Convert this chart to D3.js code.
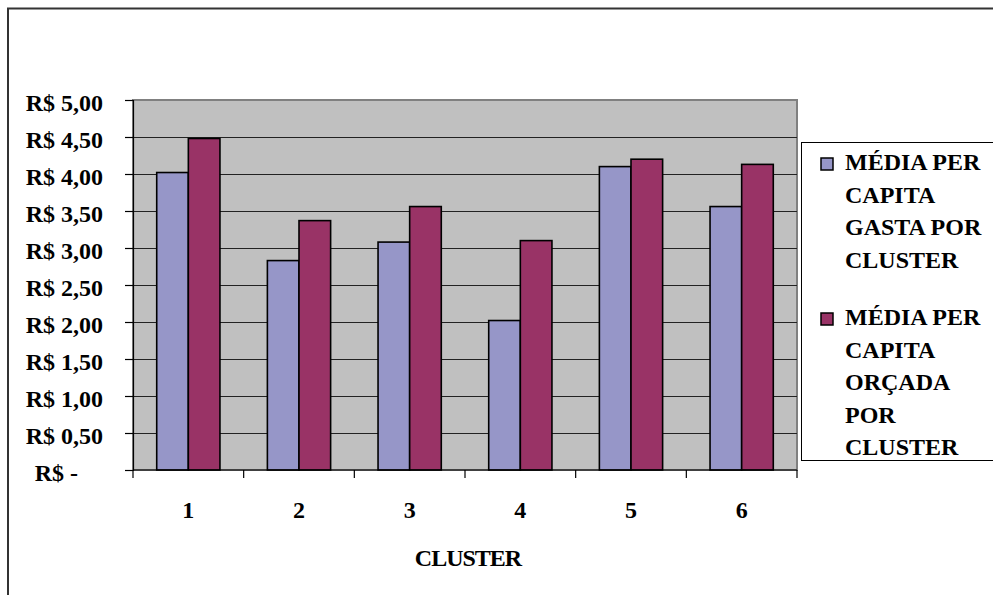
<!DOCTYPE html>
<html>
<head>
<meta charset="utf-8">
<script src="https://cdn.jsdelivr.net/npm/d3@7"></script>
<style>
  html, body { margin: 0; padding: 0; background: #fff; }
  svg { display: block; }
  text { font-family: "Liberation Serif", "Times New Roman", serif; font-weight: bold; fill: #000; }
</style>
</head>
<body>
<svg id="chart" width="993" height="595"></svg>
<script>
// Clusters on the x axis
const clusters = ["1", "2", "3", "4", "5", "6"];
// Average per capita spent, by cluster (R$)
const gasta = [4.02, 2.83, 3.08, 2.02, 4.10, 3.56];
// Average per capita budgeted, by cluster (R$)
const orcada = [4.48, 3.37, 3.56, 3.10, 4.20, 4.13];
// Series names and fills
const seriesNames = ["MÉDIA PER CAPITA GASTA POR CLUSTER", "MÉDIA PER CAPITA ORÇADA POR CLUSTER"];
const seriesColors = ["#9696C8", "#993366"];
// Legend lines, as wrapped in the legend box
const legendLines = [
  ["MÉDIA PER", "CAPITA", "GASTA POR", "CLUSTER"],
  ["MÉDIA PER", "CAPITA", "ORÇADA", "POR", "CLUSTER"]
];
// Y axis tick values
const yTicks = [0, 0.5, 1, 1.5, 2, 2.5, 3, 3.5, 4, 4.5, 5];

const svg = d3.select("#chart");
const plot = { left: 133, right: 797, top: 100, bottom: 470 };
const fontSize = 24;

// Outer chart border
svg.append("rect")
  .attr("x", 8).attr("y", 8.5)
  .attr("width", 1000).attr("height", 600)
  .attr("fill", "#fff").attr("stroke", "#333").attr("stroke-width", 2);

const x = d3.scaleBand().domain(clusters).range([plot.left, plot.right]).padding(0);
const xs = d3.scaleBand().domain([0, 1]).range([0, x.bandwidth()])
  .paddingInner(0).paddingOuter(0.75);
const y = d3.scaleLinear().domain([0, 5]).range([plot.bottom, plot.top]);

// Plot area
svg.append("rect")
  .attr("x", plot.left).attr("y", plot.top)
  .attr("width", plot.right - plot.left).attr("height", plot.bottom - plot.top)
  .attr("fill", "#C0C0C0").attr("stroke", "#808080").attr("stroke-width", 2);

// Horizontal gridlines
svg.append("g")
  .selectAll("line")
  .data(yTicks.filter(d => d > 0 && d < 5))
  .join("line")
  .attr("x1", plot.left).attr("x2", plot.right)
  .attr("y1", d => Math.round(y(d)) + 0.5).attr("y2", d => Math.round(y(d)) + 0.5)
  .attr("stroke", "#222").attr("stroke-width", 1.2);

// Bars
const groups = svg.append("g")
  .selectAll("g")
  .data(clusters)
  .join("g")
  .attr("transform", d => `translate(${x(d)},0)`);

groups.selectAll("rect")
  .data((d, i) => [gasta[i], orcada[i]].map((v, s) => ({ v, s })))
  .join("rect")
  .attr("x", d => xs(d.s))
  .attr("width", xs.bandwidth())
  .attr("y", d => y(d.v))
  .attr("height", d => y(0) - y(d.v))
  .attr("fill", d => seriesColors[d.s])
  .attr("stroke", "#000").attr("stroke-width", 1.6);

// Y axis
const yAxis = svg.append("g")
  .attr("transform", `translate(${plot.left},0)`)
  .call(d3.axisLeft(y).tickValues(yTicks).tickSize(8).tickPadding(22)
    .tickFormat(d => d === 0 ? "R$ -" : "R$ " + d3.format(".2f")(d).replace(".", ",")));
yAxis.select(".domain").attr("stroke", "#000").attr("stroke-width", 1.2);
yAxis.selectAll(".tick line").attr("stroke", "#000").attr("stroke-width", 1.2);
yAxis.selectAll(".tick text")
  .style("font-size", fontSize + "px")
  .attr("dy", "0.42em");
yAxis.selectAll(".tick text").filter(d => d === 0).attr("x", -55);

// X axis: ticks at category boundaries
const xAxis = svg.append("g")
  .attr("transform", `translate(0,${plot.bottom})`);
xAxis.append("line")
  .attr("x1", plot.left).attr("x2", plot.right)
  .attr("stroke", "#000").attr("stroke-width", 1.2);
const bounds = clusters.map(c => x(c)).concat([x(clusters[clusters.length - 1]) + x.bandwidth()]);
xAxis.selectAll("line.tick")
  .data(bounds)
  .join("line")
  .attr("class", "tick")
  .attr("x1", d => d).attr("x2", d => d)
  .attr("y1", 0).attr("y2", 8)
  .attr("stroke", "#000").attr("stroke-width", 1.2);
xAxis.selectAll("text")
  .data(clusters)
  .join("text")
  .attr("x", d => x(d) + x.bandwidth() / 2)
  .attr("y", 48)
  .attr("text-anchor", "middle")
  .style("font-size", fontSize + "px")
  .text(d => d);

// X axis title
svg.append("text")
  .attr("x", (plot.left + plot.right) / 2 + 3)
  .attr("y", 566)
  .attr("text-anchor", "middle")
  .style("font-size", fontSize + "px")
  .style("letter-spacing", "-1px")
  .text("CLUSTER");

// Legend
const legend = svg.append("g");
legend.append("rect")
  .attr("x", 801.5).attr("y", 142.5)
  .attr("width", 300).attr("height", 318)
  .attr("fill", "#fff").attr("stroke", "#000").attr("stroke-width", 1);

const legendTop = [170, 325];
legendLines.forEach((lines, s) => {
  legend.append("rect")
    .attr("x", 821).attr("y", legendTop[s] - 12)
    .attr("width", 12).attr("height", 12)
    .attr("fill", seriesColors[s]).attr("stroke", "#000").attr("stroke-width", 1.5);
  const t = legend.append("text")
    .attr("x", 845).attr("y", legendTop[s])
    .style("font-size", fontSize + "px");
  t.selectAll("tspan")
    .data(lines)
    .join("tspan")
    .attr("x", 845)
    .attr("dy", (d, i) => i === 0 ? 0 : 32.5)
    .text(d => d);
  t.append("title").text(seriesNames[s]);
});
</script>
</body>
</html>
